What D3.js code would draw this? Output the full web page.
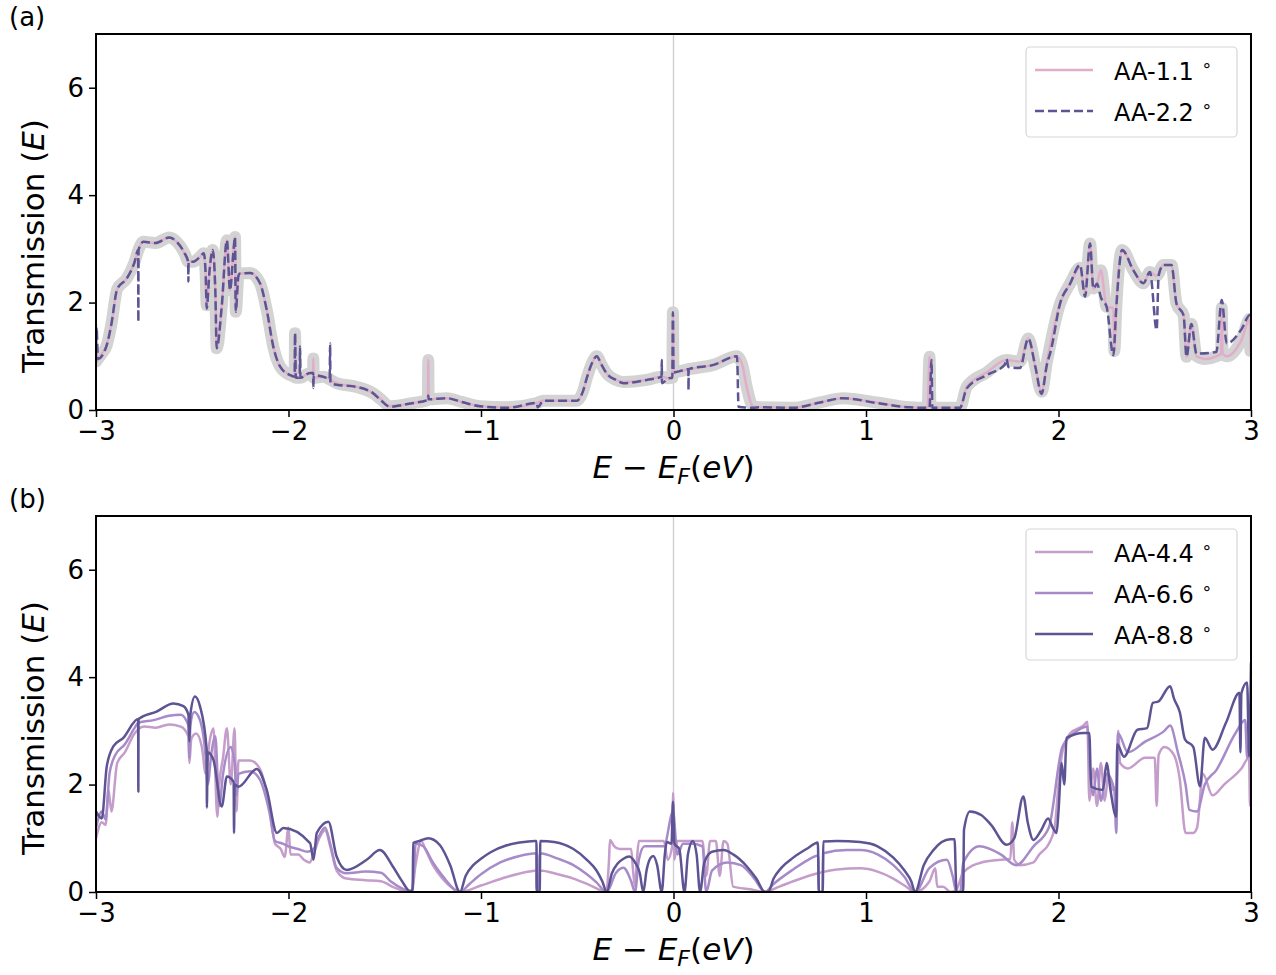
<!DOCTYPE html>
<html>
<head>
<meta charset="utf-8">
<script src="https://cdn.jsdelivr.net/npm/d3@7"></script>
<style>
  body { margin: 0; background: #fff; }
  text { font-family: "DejaVu Sans", sans-serif; fill: #000; }
</style>
</head>
<body>
<div id="chart-area"></div>
<script>
'use strict';

// tick labels
let xTicks = [-3, -2, -1, 0, 1, 2, 3];
let yTicks = [0, 2, 4, 6];

// panel (a) series: [E - E_F, transmission]
let aa11 = [[-3.0,0.9],[-2.97,1.05],[-2.945,1.2],[-2.92,1.6],[-2.89,2.25],[-2.84,2.45],[-2.8,2.75],[-2.78,2.98],[-2.754,3.13],[-2.69,3.11],[-2.62,3.21],[-2.58,3.13],[-2.54,2.92],[-2.52,2.76],[-2.495,2.76],[-2.46,2.85],[-2.44,2.92],[-2.43,2.5],[-2.425,1.95],[-2.41,2.6],[-2.394,2.98],[-2.38,2.2],[-2.373,1.15],[-2.347,1.92],[-2.32,3.16],[-2.304,2.23],[-2.285,3.0],[-2.278,3.22],[-2.274,1.83],[-2.26,2.5],[-2.252,2.54],[-2.2,2.55],[-2.148,2.36],[-2.113,1.86],[-2.079,1.18],[-2.044,0.81],[-1.992,0.65],[-1.968,0.62],[-1.966,1.43],[-1.962,0.6],[-1.94,0.6],[-1.888,0.69],[-1.872,0.69],[-1.871,0.96],[-1.869,0.6],[-1.82,0.62],[-1.75,0.5],[-1.646,0.43],[-1.56,0.31],[-1.52,0.2],[-1.473,0.07],[-1.4,0.1],[-1.35,0.13],[-1.276,0.19],[-1.274,0.93],[-1.272,0.2],[-1.178,0.22],[-1.1,0.15],[-1.005,0.07],[-0.866,0.05],[-0.71,0.13],[-0.676,0.17],[-0.503,0.17],[-0.47,0.35],[-0.451,0.59],[-0.42,0.9],[-0.399,1.0],[-0.375,0.85],[-0.347,0.68],[-0.3,0.56],[-0.26,0.52],[-0.139,0.56],[-0.061,0.62],[-0.026,0.59],[-0.006,0.6],[-0.003,1.82],[0.0,0.7],[0.018,0.71],[0.078,0.76],[0.208,0.84],[0.33,1.0],[0.36,0.8],[0.38,0.43],[0.415,0.06],[0.45,0.05],[0.62,0.04],[0.761,0.14],[0.882,0.22],[1.055,0.14],[1.228,0.05],[1.32,0.04],[1.33,0.99],[1.335,0.04],[1.488,0.04],[1.523,0.43],[1.627,0.7],[1.73,0.93],[1.8,0.9],[1.843,1.33],[1.88,0.8],[1.912,0.34],[1.94,0.9],[2.008,1.98],[2.06,2.35],[2.112,2.65],[2.138,2.2],[2.164,3.1],[2.181,2.26],[2.2,2.35],[2.22,2.6],[2.25,1.92],[2.285,1.9],[2.29,1.1],[2.3,1.9],[2.33,2.98],[2.389,2.6],[2.441,2.36],[2.475,2.57],[2.51,2.5],[2.545,2.7],[2.587,2.7],[2.613,1.98],[2.65,1.76],[2.665,0.99],[2.69,1.6],[2.717,1.0],[2.76,0.95],[2.82,1.0],[2.845,1.05],[2.848,1.9],[2.852,1.05],[2.874,1.0],[2.95,1.3],[2.995,1.7],[2.997,1.1],[3.0,1.7]];

let aa22 = [[-3.0,0.9],[-2.997,1.55],[-2.99,0.95],[-2.945,1.2],[-2.92,1.6],[-2.89,2.25],[-2.84,2.45],[-2.8,2.75],[-2.781,2.98],[-2.78,1.64],[-2.779,2.98],[-2.754,3.13],[-2.69,3.11],[-2.62,3.21],[-2.58,3.13],[-2.54,2.92],[-2.521,2.76],[-2.52,2.39],[-2.519,2.76],[-2.495,2.76],[-2.46,2.85],[-2.44,2.92],[-2.43,2.5],[-2.425,1.89],[-2.41,2.6],[-2.394,2.98],[-2.38,2.2],[-2.373,1.15],[-2.347,1.92],[-2.32,3.16],[-2.304,2.23],[-2.285,3.0],[-2.278,3.22],[-2.274,1.83],[-2.26,2.5],[-2.252,2.54],[-2.2,2.55],[-2.148,2.36],[-2.113,1.86],[-2.079,1.18],[-2.044,0.81],[-1.992,0.65],[-1.968,0.62],[-1.966,1.43],[-1.962,0.6],[-1.942,0.6],[-1.94,1.18],[-1.938,0.6],[-1.888,0.69],[-1.872,0.69],[-1.871,0.41],[-1.869,0.65],[-1.82,0.62],[-1.786,0.58],[-1.784,1.24],[-1.782,0.5],[-1.75,0.47],[-1.646,0.43],[-1.56,0.31],[-1.52,0.18],[-1.473,0.06],[-1.4,0.1],[-1.35,0.13],[-1.276,0.19],[-1.274,0.27],[-1.272,0.2],[-1.178,0.22],[-1.1,0.15],[-1.005,0.07],[-0.866,0.04],[-0.71,0.13],[-0.706,0.05],[-0.676,0.17],[-0.503,0.17],[-0.47,0.35],[-0.451,0.59],[-0.42,0.9],[-0.399,1.0],[-0.375,0.85],[-0.347,0.68],[-0.3,0.56],[-0.26,0.5],[-0.139,0.56],[-0.062,0.62],[-0.061,0.93],[-0.06,0.5],[-0.026,0.59],[-0.006,0.6],[-0.003,1.82],[0.0,0.7],[0.018,0.71],[0.077,0.76],[0.078,0.37],[0.079,0.76],[0.208,0.84],[0.33,1.0],[0.338,0.06],[0.36,0.05],[0.415,0.04],[0.45,0.05],[0.62,0.04],[0.761,0.14],[0.882,0.22],[1.055,0.13],[1.228,0.05],[1.33,0.04],[1.34,0.93],[1.345,0.04],[1.488,0.04],[1.523,0.4],[1.627,0.65],[1.72,0.84],[1.73,0.95],[1.74,0.8],[1.8,0.78],[1.843,1.33],[1.88,0.8],[1.912,0.3],[1.94,0.85],[1.96,1.1],[2.008,1.98],[2.06,2.35],[2.112,2.7],[2.138,2.11],[2.164,3.1],[2.181,2.26],[2.2,2.35],[2.22,2.1],[2.25,1.92],[2.285,1.02],[2.3,1.9],[2.33,2.98],[2.389,2.6],[2.441,2.36],[2.475,2.57],[2.51,1.49],[2.52,2.5],[2.545,2.7],[2.587,2.7],[2.613,1.98],[2.65,1.76],[2.665,0.99],[2.69,1.6],[2.717,1.05],[2.82,1.08],[2.848,2.05],[2.874,1.24],[2.95,1.5],[2.995,1.77],[3.0,1.7]];

// panel (b) series
let aa44 = [[-3.0,1.0],[-2.97,1.3],[-2.95,1.25],[-2.935,1.9],[-2.92,1.5],[-2.89,2.4],[-2.85,2.6],[-2.8,2.95],[-2.75,3.08],[-2.69,3.06],[-2.62,3.12],[-2.56,3.08],[-2.52,2.9],[-2.515,2.4],[-2.505,2.85],[-2.48,2.95],[-2.45,2.7],[-2.43,2.2],[-2.41,2.8],[-2.39,3.05],[-2.37,1.4],[-2.36,2.0],[-2.34,2.5],[-2.32,3.05],[-2.3,2.0],[-2.28,3.05],[-2.27,1.5],[-2.26,2.45],[-2.2,2.45],[-2.15,2.3],[-2.1,1.6],[-2.07,0.9],[-2.04,0.8],[-2.02,0.65],[-2.0,1.2],[-1.99,0.7],[-1.95,0.7],[-1.92,0.6],[-1.89,0.55],[-1.87,0.7],[-1.84,1.0],[-1.81,1.15],[-1.78,0.8],[-1.75,0.4],[-1.7,0.25],[-1.6,0.22],[-1.52,0.2],[-1.45,0.08],[-1.4,0.02],[-1.36,0.0],[-1.34,0.5],[-1.31,0.95],[-1.29,0.8],[-1.25,0.5],[-1.2,0.25],[-1.15,0.08],[-1.11,0.0],[-1.0,0.12],[-0.866,0.28],[-0.75,0.38],[-0.712,0.4],[-0.71,0.0],[-0.698,0.0],[-0.695,0.4],[-0.6,0.33],[-0.52,0.25],[-0.43,0.12],[-0.35,0.0],[-0.335,0.6],[-0.33,0.97],[-0.31,0.86],[-0.28,0.8],[-0.22,0.8],[-0.21,0.4],[-0.2,0.1],[-0.19,0.6],[-0.18,0.95],[-0.1,0.95],[-0.05,0.95],[-0.03,0.6],[-0.005,0.9],[-0.002,1.85],[0.005,0.6],[0.02,0.95],[0.1,0.95],[0.15,0.95],[0.17,0.3],[0.19,0.95],[0.22,0.95],[0.24,0.3],[0.26,0.95],[0.28,0.9],[0.31,0.1],[0.4,0.05],[0.47,0.0],[0.55,0.1],[0.622,0.2],[0.75,0.35],[0.85,0.42],[0.969,0.44],[1.06,0.38],[1.142,0.25],[1.2,0.12],[1.255,0.0],[1.33,0.2],[1.36,0.44],[1.37,0.1],[1.4,0.1],[1.44,0.0],[1.47,0.05],[1.505,0.36],[1.6,0.55],[1.7,0.6],[1.75,0.62],[1.76,1.3],[1.77,0.6],[1.8,0.5],[1.87,0.55],[1.9,0.7],[1.95,0.9],[1.98,1.2],[2.0,2.0],[2.02,2.6],[2.06,2.95],[2.13,3.1],[2.15,3.17],[2.16,1.7],[2.18,2.3],[2.2,1.6],[2.22,2.4],[2.24,1.7],[2.26,2.2],[2.28,1.9],[2.3,1.9],[2.31,3.0],[2.32,2.4],[2.36,2.3],[2.45,2.5],[2.5,2.5],[2.51,1.6],[2.52,2.55],[2.55,2.7],[2.6,2.55],[2.63,2.1],[2.66,1.1],[2.7,1.1],[2.72,1.2],[2.75,2.2],[2.8,1.8],[2.86,2.0],[2.95,2.3],[2.99,2.5],[2.995,1.6],[3.0,2.5]];

let aa66 = [[-3.0,1.2],[-2.97,1.5],[-2.95,1.35],[-2.93,2.2],[-2.9,2.55],[-2.85,2.75],[-2.8,3.05],[-2.78,3.15],[-2.7,3.2],[-2.62,3.28],[-2.56,3.3],[-2.52,3.1],[-2.515,2.5],[-2.51,3.1],[-2.49,3.35],[-2.46,3.2],[-2.43,2.5],[-2.42,2.0],[-2.4,2.6],[-2.38,2.9],[-2.36,1.6],[-2.34,2.2],[-2.3,2.7],[-2.28,2.4],[-2.27,1.8],[-2.26,2.2],[-2.2,2.25],[-2.15,2.1],[-2.1,1.5],[-2.07,0.95],[-2.03,0.9],[-2.0,0.85],[-1.95,0.8],[-1.9,0.75],[-1.87,0.8],[-1.84,1.05],[-1.81,1.2],[-1.78,0.85],[-1.75,0.45],[-1.7,0.35],[-1.6,0.38],[-1.52,0.36],[-1.47,0.2],[-1.4,0.05],[-1.36,0.0],[-1.345,0.6],[-1.34,0.9],[-1.3,0.85],[-1.25,0.55],[-1.2,0.3],[-1.11,0.0],[-1.06,0.15],[-1.0,0.33],[-0.9,0.55],[-0.8,0.67],[-0.712,0.72],[-0.71,0.0],[-0.698,0.0],[-0.695,0.72],[-0.6,0.62],[-0.52,0.5],[-0.45,0.33],[-0.4,0.18],[-0.347,0.0],[-0.3,0.35],[-0.26,0.45],[-0.22,0.2],[-0.2,0.0],[-0.18,0.6],[-0.15,0.85],[-0.05,0.85],[-0.002,1.5],[0.02,0.7],[0.05,0.9],[0.1,0.9],[0.15,0.85],[0.17,0.0],[0.2,0.4],[0.28,0.55],[0.35,0.5],[0.42,0.25],[0.475,0.0],[0.52,0.15],[0.622,0.42],[0.7,0.6],[0.752,0.68],[0.755,0.0],[0.775,0.0],[0.778,0.72],[0.9,0.78],[0.969,0.78],[1.06,0.7],[1.142,0.5],[1.2,0.28],[1.255,0.0],[1.33,0.45],[1.42,0.6],[1.45,0.3],[1.47,0.0],[1.49,0.0],[1.505,0.54],[1.59,0.85],[1.7,0.7],[1.78,0.5],[1.87,0.85],[1.95,1.2],[2.02,2.7],[2.08,2.95],[2.15,3.08],[2.16,2.4],[2.18,1.8],[2.2,2.3],[2.22,1.7],[2.25,2.2],[2.29,1.9],[2.3,1.1],[2.31,2.95],[2.36,2.6],[2.45,2.8],[2.55,3.0],[2.58,3.1],[2.62,2.6],[2.66,2.0],[2.68,1.53],[2.72,1.5],[2.76,2.0],[2.82,2.27],[2.92,2.96],[2.97,3.2],[2.98,2.5],[3.0,3.52]];

let aa88 = [[-3.0,1.5],[-2.97,1.37],[-2.944,2.34],[-2.91,2.71],[-2.858,2.87],[-2.781,3.22],[-2.78,1.87],[-2.779,3.22],[-2.685,3.36],[-2.598,3.51],[-2.546,3.46],[-2.52,3.3],[-2.515,2.8],[-2.51,3.3],[-2.486,3.64],[-2.46,3.46],[-2.425,2.65],[-2.424,1.57],[-2.42,2.6],[-2.39,2.46],[-2.347,1.59],[-2.32,2.15],[-2.285,2.05],[-2.283,1.1],[-2.28,2.0],[-2.26,1.96],[-2.165,2.29],[-2.113,1.9],[-2.06,1.1],[-2.027,1.19],[-1.888,0.91],[-1.87,0.6],[-1.853,1.1],[-1.793,1.31],[-1.75,0.66],[-1.698,0.41],[-1.594,0.6],[-1.525,0.78],[-1.457,0.47],[-1.41,0.2],[-1.37,0.02],[-1.355,0.05],[-1.352,0.91],[-1.32,0.95],[-1.274,1.0],[-1.213,0.87],[-1.16,0.5],[-1.109,0.0],[-1.08,0.3],[-1.04,0.5],[-1.0,0.62],[-0.95,0.74],[-0.866,0.87],[-0.8,0.92],[-0.72,0.95],[-0.712,0.95],[-0.71,0.0],[-0.695,0.0],[-0.692,0.95],[-0.62,0.93],[-0.52,0.8],[-0.45,0.6],[-0.4,0.4],[-0.37,0.2],[-0.347,0.0],[-0.32,0.35],[-0.29,0.53],[-0.26,0.62],[-0.23,0.66],[-0.2,0.55],[-0.175,0.35],[-0.157,0.0],[-0.14,0.4],[-0.12,0.63],[-0.105,0.67],[-0.085,0.5],[-0.061,0.0],[-0.045,0.7],[-0.035,0.93],[-0.01,0.9],[-0.003,1.68],[0.005,0.9],[0.03,0.8],[0.057,0.0],[0.075,0.7],[0.1,0.95],[0.12,0.7],[0.138,0.0],[0.16,0.55],[0.2,0.75],[0.26,0.78],[0.31,0.7],[0.38,0.48],[0.43,0.25],[0.475,0.0],[0.492,0.0],[0.52,0.25],[0.56,0.45],[0.622,0.64],[0.7,0.82],[0.75,0.92],[0.755,0.0],[0.775,0.0],[0.778,0.94],[0.85,0.95],[0.969,0.93],[1.06,0.85],[1.142,0.64],[1.2,0.4],[1.235,0.2],[1.255,0.0],[1.3,0.5],[1.35,0.78],[1.437,0.98],[1.46,0.98],[1.47,0.0],[1.505,0.0],[1.509,1.16],[1.54,1.5],[1.6,1.43],[1.65,1.25],[1.73,0.88],[1.77,1.0],[1.817,1.78],[1.84,1.3],[1.87,0.97],[1.91,1.15],[1.946,1.37],[1.97,1.2],[1.99,1.1],[2.0,1.5],[2.016,2.4],[2.03,2.0],[2.042,2.87],[2.13,2.96],[2.16,2.96],[2.17,1.96],[2.23,1.9],[2.25,2.4],[2.27,1.9],[2.3,1.4],[2.305,2.75],[2.34,2.52],[2.41,3.02],[2.46,3.05],[2.49,3.52],[2.52,3.55],[2.58,3.83],[2.6,3.6],[2.63,3.35],[2.657,2.84],[2.7,2.7],[2.735,1.97],[2.76,2.87],[2.8,2.65],[2.87,3.15],[2.94,3.71],[2.945,2.6],[2.95,3.7],[2.98,3.9],[2.99,2.52],[3.0,4.27]];

let colPink = '#e0aecb';
let colDark = '#5d5494';
let colLight = '#c59dcb';
let colMid = '#a78bc8';

let svg = d3.select('#chart-area').append('svg')
    .attr('width', 1276)
    .attr('height', 975);

let left = 96, width = 1155, height = 376;

function drawPanel(top, tag, series, legendItems, id) {
    let x = d3.scaleLinear().domain([-3, 3]).range([left, left + width]);
    let y = d3.scaleLinear().domain([0, 7]).range([top + height, top]);

    svg.append('clipPath').attr('id', id)
        .append('rect')
        .attr('x', left).attr('y', top)
        .attr('width', width).attr('height', height);

    // E_F marker
    svg.append('line')
        .attr('x1', x(0)).attr('x2', x(0))
        .attr('y1', top).attr('y2', top + height)
        .attr('stroke', '#cccccc')
        .attr('stroke-width', 1.3);

    let line = d3.line()
        .curve(d3.curveMonotoneX)
        .x((d) => x(d[0]))
        .y((d) => y(d[1]));

    let g = svg.append('g').attr('clip-path', 'url(#' + id + ')');
    series.forEach((s) => {
        g.append('path')
            .datum(s.data)
            .attr('d', line)
            .attr('fill', 'none')
            .attr('stroke', s.color)
            .attr('stroke-width', s.width)
            .attr('stroke-linejoin', 'round')
            .attr('stroke-linecap', s.cap || 'butt')
            .attr('stroke-dasharray', s.dash || null);
    });

    let xAxis = svg.append('g')
        .attr('transform', 'translate(0,' + (top + height) + ')')
        .call(d3.axisBottom(x).tickValues(xTicks).tickSize(7).tickPadding(5)
            .tickFormat((d) => d < 0 ? '\u2212' + Math.abs(d) : d));
    let yAxis = svg.append('g')
        .attr('transform', 'translate(' + left + ',0)')
        .call(d3.axisLeft(y).tickValues(yTicks).tickSize(7).tickPadding(5)
            .tickFormat(d3.format('d')));
    [xAxis, yAxis].forEach((a) => {
        a.select('.domain').remove();
        a.selectAll('line').attr('stroke', '#000').attr('stroke-width', 1.5);
        a.selectAll('text').attr('font-size', 26).attr('font-family', 'DejaVu Sans');
    });

    svg.append('rect')
        .attr('x', left).attr('y', top)
        .attr('width', width).attr('height', height)
        .attr('fill', 'none')
        .attr('stroke', '#000')
        .attr('stroke-width', 2);

    // x label
    let xl = svg.append('text')
        .attr('x', x(0)).attr('y', top + height + 68)
        .attr('text-anchor', 'middle')
        .attr('font-size', 31);
    xl.append('tspan').attr('font-style', 'italic').text('E');
    xl.append('tspan').text(' \u2212 ');
    xl.append('tspan').attr('font-style', 'italic').text('E');
    xl.append('tspan').attr('font-style', 'italic').attr('font-size', 22).attr('dy', 6).text('F');
    xl.append('tspan').attr('dy', -6).text('(');
    xl.append('tspan').attr('font-style', 'italic').text('eV');
    xl.append('tspan').text(')');

    // y label
    let yl = svg.append('text')
        .attr('transform', 'translate(44,' + (top + height / 2 + 24) + ') rotate(-90)')
        .attr('text-anchor', 'middle')
        .attr('font-size', 31);
    yl.append('tspan').text('Transmission (');
    yl.append('tspan').attr('font-style', 'italic').text('E');
    yl.append('tspan').text(')');

    svg.append('text')
        .attr('x', 9).attr('y', top - 8)
        .attr('font-size', 26)
        .text(tag);

    // legend
    let lh = 41;
    let legH = legendItems.length * lh + 8;
    svg.append('rect')
        .attr('x', 1026).attr('y', top + 13)
        .attr('width', 211).attr('height', legH)
        .attr('rx', 4)
        .attr('fill', '#fff').attr('fill-opacity', 0.8)
        .attr('stroke', '#d6d6d6').attr('stroke-width', 1.2);
    legendItems.forEach((it, i) => {
        let cy = top + 36 + i * lh;
        svg.append('line')
            .attr('x1', 1035).attr('x2', 1093)
            .attr('y1', cy).attr('y2', cy)
            .attr('stroke', it.color)
            .attr('stroke-width', it.width)
            .attr('stroke-dasharray', it.dash || null);
        let t = svg.append('text')
            .attr('x', 1114).attr('y', cy + 10)
            .attr('font-size', 24);
        t.append('tspan').text(it.label + ' ');
        t.append('tspan').attr('font-size', 17).attr('dy', -9).text('\u2218');
    });
}

drawPanel(34, '(a)', [
    {data: aa11, color: '#d3d3d3', width: 12, cap: 'round'},
    {data: aa11, color: colPink, width: 2.5},
    {data: aa22, color: colDark, width: 2.5, dash: '9,4'}
], [
    {label: 'AA-1.1', color: colPink, width: 2.5},
    {label: 'AA-2.2', color: colDark, width: 2.5, dash: '9,4'}
], 'clipA');

drawPanel(516, '(b)', [
    {data: aa44, color: colLight, width: 2.5},
    {data: aa66, color: colMid, width: 2.5},
    {data: aa88, color: colDark, width: 2.5}
], [
    {label: 'AA-4.4', color: colLight, width: 2.5},
    {label: 'AA-6.6', color: colMid, width: 2.5},
    {label: 'AA-8.8', color: colDark, width: 2.5}
], 'clipB');
</script>
</body>
</html>
